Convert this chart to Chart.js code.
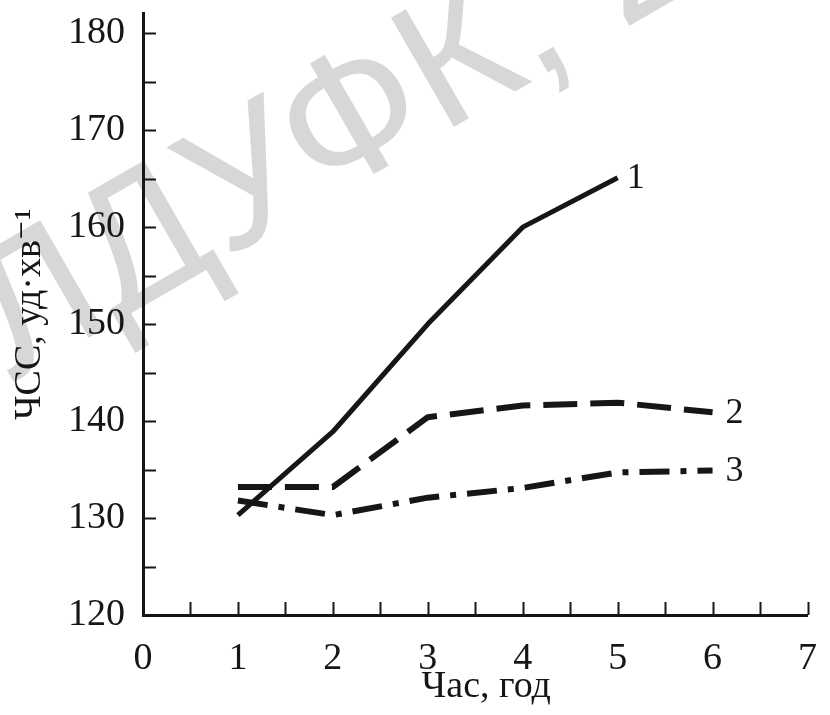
<!DOCTYPE html>
<html>
<head>
<meta charset="utf-8">
<script src="https://cdn.jsdelivr.net/npm/chart.js@4.4.1/dist/chart.umd.min.js"></script>
<style>
  html, body { margin: 0; padding: 0; background: #fff; overflow: hidden; }
  /* полотно трохи вище вікна: верх осі y має бути ближче до краю, ніж дозволяє відступ під підпис 180 */
  #wrap { width: 830px; height: 734px; position: relative; margin-top: -19px; }
</style>
</head>
<body>
<div id="wrap"><canvas id="chart"></canvas></div>
<script>
// ЧСС за часом (год) — три криві
const hours = [1, 2, 3, 4, 5, 6];
const series1 = [130.3, 138.9, 150.0, 160.0, 165.1];
const series2 = [133.2, 133.2, 140.4, 141.6, 141.9, 140.9];
const series3 = [131.8, 130.3, 132.1, 133.1, 134.7, 134.9];
const curveLabels = ['1', '2', '3'];
const yTicks = [120, 125, 130, 135, 140, 145, 150, 155, 160, 165, 170, 175, 180];
const xTicks = [0.5, 1, 1.5, 2, 2.5, 3, 3.5, 4, 4.5, 5, 5.5, 6, 6.5, 7];
const xTitle = 'Час, год';
const watermark = 'ЛДУФК, 20';

const ink = '#161616';
const serif = '"Liberation Serif", "DejaVu Serif", serif';
const shift = 19; // на скільки полотно зсунуте вгору

const pts = (vals) => vals.map((v, i) => ({ x: hours[i], y: v }));

// водяний знак + біле тло
const bgPlugin = {
  id: 'bg',
  beforeDraw(chart) {
    const ctx = chart.ctx;
    ctx.save();
    ctx.fillStyle = '#fff';
    ctx.fillRect(0, 0, chart.width, chart.height);
    ctx.translate(12, 382 + shift);
    ctx.rotate(-30 * Math.PI / 180);
    ctx.fillStyle = '#d7d7d7';
    ctx.font = '183px "Liberation Sans", Arial, sans-serif';
    ctx.textBaseline = 'alphabetic';
    ctx.fillText(watermark, 0, 0);
    ctx.restore();
  }
};

// внутрішні штрихи на осях, номери кривих, підпис осі x
const marksPlugin = {
  id: 'marks',
  afterDraw(chart) {
    const ctx = chart.ctx;
    const { x, y } = chart.scales;
    const a = chart.chartArea;
    ctx.save();
    ctx.strokeStyle = ink;
    ctx.lineWidth = 2;
    ctx.beginPath();
    yTicks.forEach(v => {
      const py = Math.round(y.getPixelForValue(v)) + 0.5;
      ctx.moveTo(a.left, py); ctx.lineTo(a.left + 13, py);
    });
    xTicks.forEach(v => {
      const px = Math.round(x.getPixelForValue(v)) + 0.5;
      ctx.moveTo(px, a.bottom); ctx.lineTo(px, a.bottom - 13);
    });
    ctx.stroke();

    ctx.fillStyle = ink;
    ctx.font = '36px ' + serif;
    ctx.textBaseline = 'middle';
    ctx.textAlign = 'left';
    chart.data.datasets.forEach((ds, i) => {
      const meta = chart.getDatasetMeta(i);
      const last = meta.data[meta.data.length - 1];
      ctx.fillText(curveLabels[i], last.x + (i === 0 ? 9 : 13), last.y + 1);
    });

    ctx.font = '38px ' + serif;
    ctx.textAlign = 'center';
    ctx.textBaseline = 'alphabetic';
    ctx.fillText(xTitle, (a.left + a.right) / 2 + 11, 697 + shift);
    ctx.restore();
  }
};

new Chart(document.getElementById('chart'), {
  type: 'line',
  data: {
    datasets: [
      { data: pts(series1), borderColor: ink, borderWidth: 5, tension: 0 },
      { data: pts(series2), borderColor: ink, borderWidth: 6, borderDash: [34, 13], tension: 0 },
      { data: pts(series3), borderColor: ink, borderWidth: 6, borderDash: [30, 11, 6, 11], tension: 0 }
    ]
  },
  options: {
    responsive: true,
    maintainAspectRatio: false,
    animation: false,
    layout: { padding: { top: 12, right: 18, left: 0, bottom: 0 } },
    elements: { point: { radius: 0 }, line: { borderCapStyle: 'butt', borderJoinStyle: 'round' } },
    plugins: { legend: { display: false }, tooltip: { enabled: false } },
    scales: {
      x: {
        type: 'linear', min: 0, max: 7,
        grid: { display: false },
        border: { display: true, width: 3, color: ink },
        ticks: { stepSize: 1, padding: 13, color: ink, font: { family: serif, size: 38 }, maxRotation: 0 },
        afterFit(s) { s.height = 100; }
      },
      y: {
        type: 'linear', min: 120, max: 182,
        grid: { display: false },
        border: { display: true, width: 3, color: ink },
        ticks: {
          stepSize: 10, includeBounds: false, padding: 10, color: ink,
          font: { family: serif, size: 38 },
          callback: v => (v % 10 === 0 && v <= 180 ? v : '')
        },
        title: { display: true, text: 'ЧСС, уд·хв\u207B\u00B9', color: ink, font: { family: serif, size: 38 }, padding: { top: 7, bottom: 0 } },
        afterFit(s) { s.width = 143; }
      }
    }
  },
  plugins: [bgPlugin, marksPlugin]
});
</script>
</body>
</html>
